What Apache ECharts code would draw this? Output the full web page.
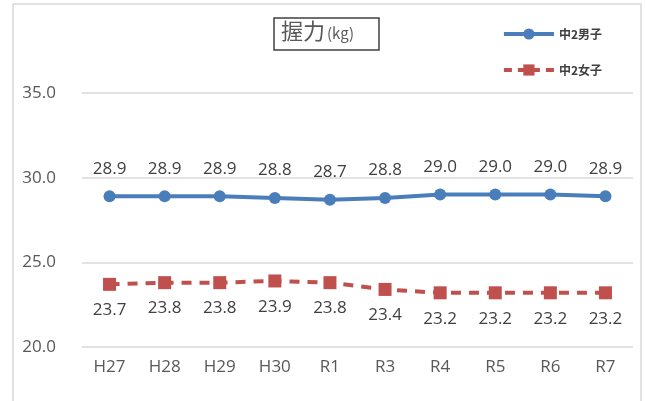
<!DOCTYPE html>
<html><head><meta charset="utf-8">
<script src="https://cdn.jsdelivr.net/npm/echarts@6/dist/echarts.min.js"></script>
<style>html,body{margin:0;padding:0;background:#fff}#c{width:645px;height:401px}</style>
</head><body><div id="c"></div>
<script>
const categories = ['H27','H28','H29','H30','R1','R3','R4','R5','R6','R7'];
const boys = [28.9,28.9,28.9,28.8,28.7,28.8,29.0,29.0,29.0,28.9];
const girls = [23.7,23.8,23.8,23.9,23.8,23.4,23.2,23.2,23.2,23.2];
const yTicks = [20,25,30,35];
const chart = echarts.init(document.getElementById('c'));
const font = '"Noto Sans CJK JP", "Open Sans", sans-serif';
const numFont = '"Open Sans", "Liberation Sans", sans-serif';
chart.setOption({
  animation:false,
  textStyle:{fontFamily:font},
  graphic:[
    {type:'rect',shape:{x:13,y:4,width:628,height:420},style:{fill:'none',stroke:'#d9d9d9',lineWidth:1.5},silent:true},
    {type:'rect',shape:{x:274,y:18,width:105,height:32},style:{fill:'#fff',stroke:'#404040',lineWidth:1.5},silent:true},
    {type:'text',left:281,top:20,style:{text:'{a|握力}{b|(kg)}',rich:{a:{fontSize:22,fill:'#595959',fontFamily:font},b:{fontSize:15,fill:'#595959',fontFamily:font,padding:[4,0,0,2]}}},silent:true}
  ],
  legend:{
    orient:'vertical',right:38,top:23,itemGap:24,itemWidth:50,itemHeight:14,
    textStyle:{fontSize:12,color:'#404040',fontWeight:'bold'},
    data:[
      {name:'中2男子',lineStyle:{width:4,color:'#4a7ebb'}},
      {name:'中2女子',lineStyle:{width:4,color:'#c0504d',type:[8,6]}}
    ]
  },
  grid:{left:82,right:12,top:93,bottom:54},
  xAxis:{type:'category',data:categories,boundaryGap:true,
    axisLine:{show:false},axisTick:{show:false},
    axisLabel:{fontSize:17,color:'#595959',margin:12,fontFamily:numFont}},
  yAxis:{type:'value',min:yTicks[0],max:yTicks[yTicks.length-1],interval:5,
    axisLabel:{fontSize:17,color:'#595959',margin:26,formatter:v=>v.toFixed(1),fontFamily:numFont},
    splitLine:{lineStyle:{color:'#d9d9d9',width:1.5}},axisLine:{show:false},axisTick:{show:false}},
  series:[
    {name:'中2男子',type:'line',data:boys,symbol:'circle',symbolSize:12,
      lineStyle:{color:'#4a7ebb',width:4},itemStyle:{color:'#4a7ebb'},
      label:{show:true,position:'top',distance:13,fontSize:17,color:'#404040',formatter:p=>p.value.toFixed(1),fontFamily:numFont}},
    {name:'中2女子',type:'line',data:girls,symbol:'rect',symbolSize:13,
      lineStyle:{color:'#c0504d',width:4,type:[10,8]},itemStyle:{color:'#c0504d'},
      label:{show:true,position:'bottom',distance:11,fontSize:17,color:'#404040',formatter:p=>p.value.toFixed(1),fontFamily:numFont}}
  ]
});
</script></body></html>
